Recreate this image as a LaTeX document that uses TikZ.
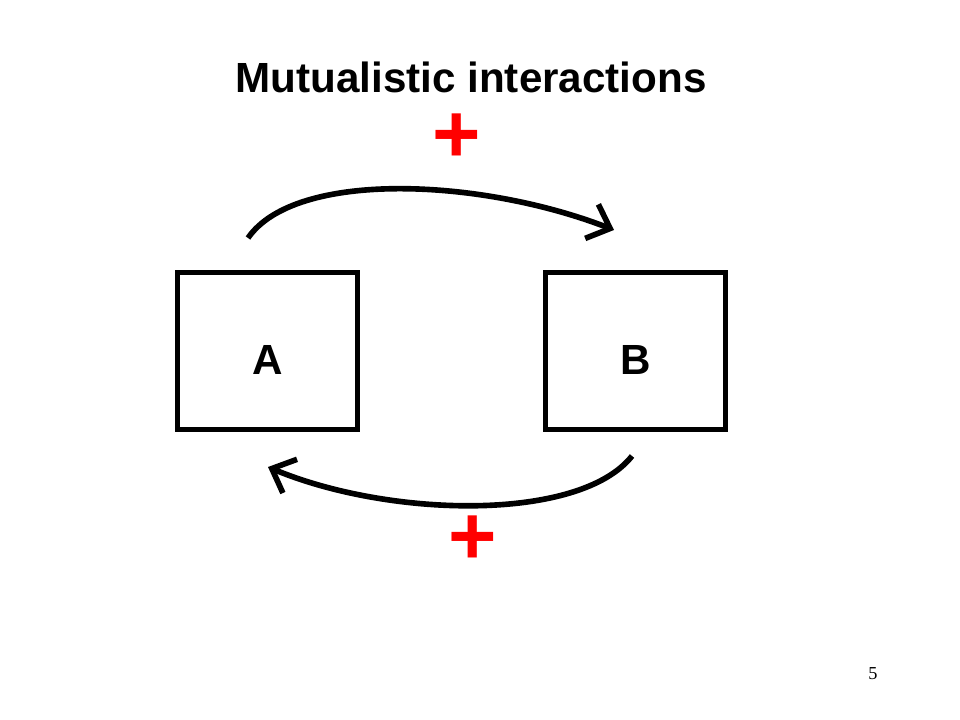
\documentclass[tikz,border=0pt]{standalone}
\usepackage{fontspec}
\setmainfont{Liberation Sans}
\newfontfamily\pagefont{Liberation Serif}
\usetikzlibrary{arrows.meta}
\begin{document}
\begin{tikzpicture}[x=0.025cm,y=-0.025cm]
		\tikzset{box/.style = {shape=rectangle,draw,line width=3.8pt,minimum width=4.5cm,minimum height=3.925cm,
			font=\bfseries\fontsize{30pt}{30pt}\selectfont,text height=34pt,text depth=0pt}}
		\tikzset{link/.style = {line width=4pt,-{Straight Barb[length=14pt,width=26pt]}}}
		\tikzset{sign/.style = {text=red,font=\bfseries\fontsize{59pt}{59pt}\selectfont,inner sep=0pt}}
		\useasboundingbox (0,0) rectangle (960,720);
		\node[anchor=base,font=\bfseries\fontsize{30pt}{30pt}\selectfont] (title) at (471,93) {Mutualistic interactions};
		\node[box] (A) at (267.5,351) {A};
		\node[box] (B) at (635.5,351) {B};
		\coordinate (ta) at (248,238);
		\coordinate (tb) at (614,230);
		\coordinate (bb) at (632,456);
		\coordinate (ba) at (268,467);
		\draw[link] (ta) .. controls (295,170) and (480,178) .. (tb);
		\draw[link] (bb) .. controls (580,522) and (390,518) .. (ba);
		\node[sign] (plustop) at (457,138) {+};
		\node[sign] (plusbot) at (473,540) {+};
		\node[anchor=base,font=\pagefont\fontsize{13pt}{13pt}\selectfont] (page) at (873,679) {5};
	\end{tikzpicture}
\end{document}
